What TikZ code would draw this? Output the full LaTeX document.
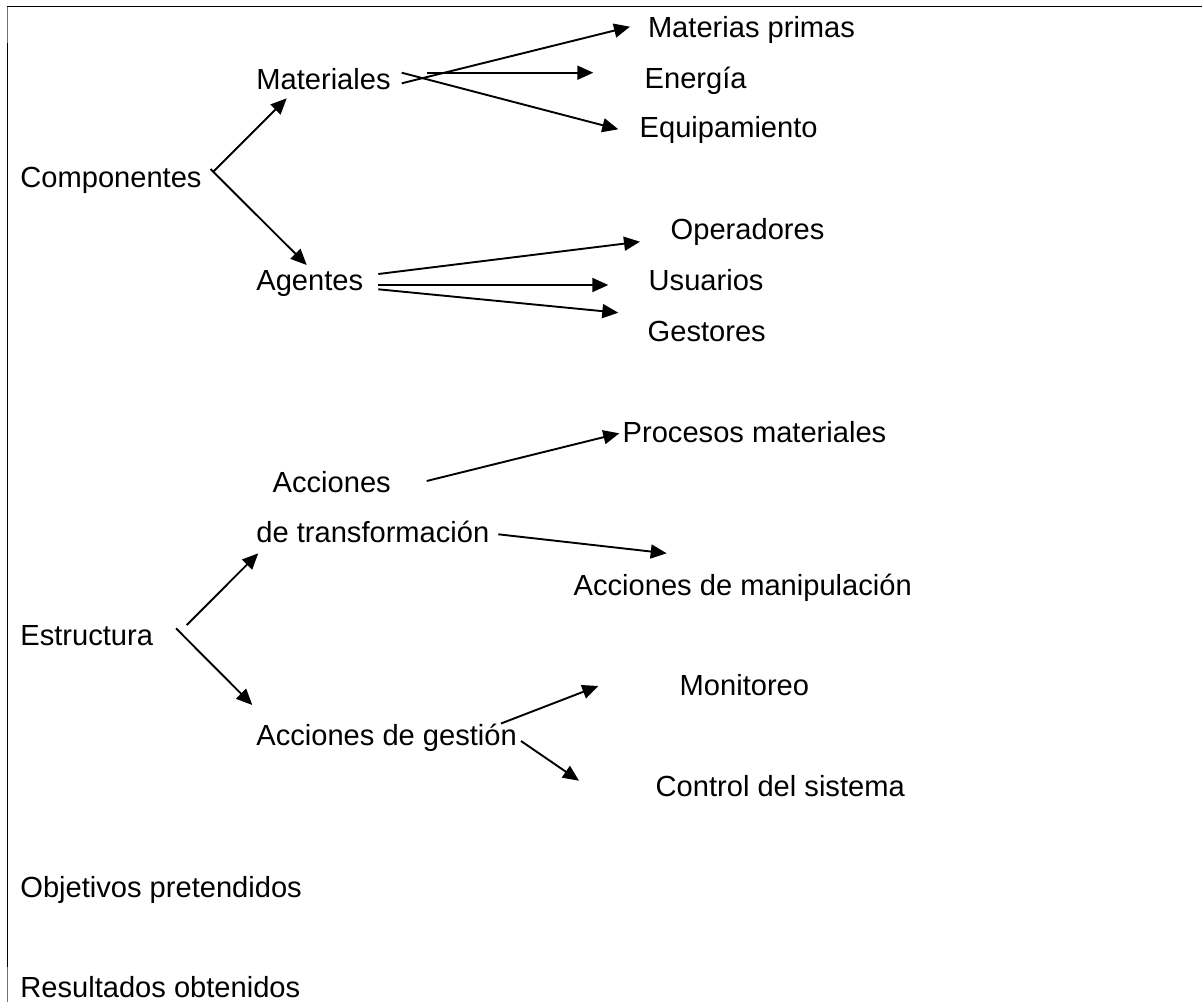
\documentclass[tikz,border=0pt]{standalone}
\usepackage{fontspec}
\setmainfont{Liberation Sans}
\usetikzlibrary{arrows.meta}
\begin{document}
\begin{tikzpicture}[x=1pt,y=-1pt,
  lbl/.style={anchor=base west,inner sep=0pt,font=\fontsize{29.1}{34}\selectfont},
  arr/.style={line width=1.9pt,-{Triangle[length=16pt,width=14pt]}},
  framemain/.style={line width=1.6pt},
  framethin/.style={line width=1pt,black!55}]
\useasboundingbox (0,0) rectangle (1202,1002);
% frame
\draw[framemain] (7.3,6.5) -- (1202,6.5);
\draw[framethin] (7.3,6.5) -- (7.3,43);
\draw[framemain] (7.3,43) -- (7.3,967);
\draw[framethin] (7.3,967) -- (7.3,1002);
% labels
\node[lbl] (comp) at (20.2,187.7) {Componentes};
\node[lbl] (mat)  at (256.2,89.3) {Materiales};
\node[lbl] (mp)   at (647.8,37.3) {Materias primas};
\node[lbl] (ene)  at (644.5,88.3) {Energía};
\node[lbl] (equ)  at (639.5,137) {Equipamiento};
\node[lbl] (age)  at (256.2,290) {Agentes};
\node[lbl] (ope)  at (670.5,239.5) {Operadores};
\node[lbl] (usu)  at (648.5,290) {Usuarios};
\node[lbl] (ges)  at (647.5,341) {Gestores};
\node[lbl] (pro)  at (622.5,442.3) {Procesos materiales};
\node[lbl] (acca) at (272.5,492.3) {Acciones};
\node[lbl] (accb) at (256.2,542.5) {de transformación};
\node[lbl] (man)  at (573.5,595) {Acciones de manipulación};
\node[lbl] (est)  at (20.2,645) {Estructura};
\node[lbl] (mon)  at (679.5,695) {Monitoreo};
\node[lbl] (gesn) at (256.2,745) {Acciones de gestión};
\node[lbl] (con)  at (655.5,796) {Control del sistema};
\node[lbl] (obj)  at (20.2,897) {Objetivos pretendidos};
\node[lbl] (res)  at (20.2,997.5) {Resultados obtenidos};
% connectors
\draw[arr] ([shift={(193.1,-16)}]comp.base west) -- ([shift={(30.5,9)}]mat.base west);
\draw[arr] ([shift={(190.3,-18.7)}]comp.base west) -- ([shift={(50.5,-25)}]age.base west);
\draw[arr] ([shift={(145.5,-6)}]mat.base west) -- ([shift={(-17.8,-10.6)}]mp.base west);
\draw[arr] ([shift={(145.5,-16.6)}]mat.base west) -- ([shift={(-21.2,-7.7)}]equ.base west);
\draw[arr] ([shift={(170.5,-16.6)}]mat.base west) -- ([shift={(-51.2,-15.6)}]ene.base west);
\draw[arr] ([shift={(122.1,-16)}]age.base west) -- ([shift={(-30.5,2.2)}]ope.base west);
\draw[arr] ([shift={(122.1,-5)}]age.base west) -- ([shift={(-40.2,-5)}]usu.base west);
\draw[arr] ([shift={(122.1,-0.7)}]age.base west) -- ([shift={(-29.2,-28.3)}]ges.base west);
\draw[arr] ([shift={(154.2,-11.3)}]acca.base west) -- ([shift={(-3.2,-9)}]pro.base west);
\draw[arr] ([shift={(242.1,-8.2)}]accb.base west) -- ([shift={(93.2,-41.7)}]man.base west);
\draw[arr] ([shift={(166.5,-20)}]est.base west) -- ([shift={(2.1,10.8)}]accb.base west);
\draw[arr] ([shift={(155.8,-16.7)}]est.base west) -- ([shift={(-3.9,-40)}]gesn.base west);
\draw[arr] ([shift={(244.8,-21.5)}]gesn.base west) -- ([shift={(-81.2,-9)}]mon.base west);
\draw[arr] ([shift={(264.8,-4)}]gesn.base west) -- ([shift={(-76.5,-15.3)}]con.base west);
\end{tikzpicture}
\end{document}
